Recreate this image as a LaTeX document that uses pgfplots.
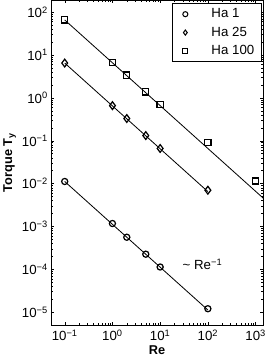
\documentclass[border=0pt]{standalone}
\usepackage{fontspec}
\setmainfont{Liberation Sans}
\usepackage{pgfplots}
\pgfplotsset{compat=1.18}
\newcommand{\ex}[1]{10\textsuperscript{#1}}
\begin{document}
\begin{tikzpicture}
\begin{axis}[
  scale only axis, width=207pt, height=318pt,
  xmode=log, ymode=log,
  xmin=0.0525, xmax=1413, ymin=5e-6, ymax=190,
  axis line style={black, line width=0.5pt},
  tick align=inside, major tick length=3pt, minor tick length=1.5pt,
  tick style={black, line width=0.4pt},
  xtick={0.1,1,10,100,1000},
  xticklabels={\ex{−1},\ex{0},\ex{1},\ex{2},\ex{3}},
  ytick={1e-5,1e-4,1e-3,1e-2,1e-1,1,10,100},
  yticklabels={\ex{−5},\ex{−4},\ex{−3},\ex{−2},\ex{−1},\ex{0},\ex{1},\ex{2}},
  ticklabel style={font=\fontsize{13}{15}\selectfont},
  xticklabel style={yshift=-1pt},
  xlabel={\bfseries Re}, ylabel={\bfseries Torque T\textsubscript{y}},
  label style={font=\fontsize{12.5}{14}\selectfont},
  xlabel style={yshift=2pt},
  ylabel style={yshift=-1pt},
  legend style={at={(0.995,0.99)}, anchor=north east, draw=black, line width=0.5pt,
    font=\fontsize{13}{15}\selectfont, row sep=3.5pt, inner xsep=5pt, inner ysep=3pt},
  legend cell align=left,
  legend image code/.code={\path (0pt,0pt) (30pt,0pt); \draw[#1, only marks, mark size=2.5pt, line width=1pt] plot coordinates {(7pt,0pt)};},
]
% fitted lines
\addplot[black, line width=0.8pt, forget plot] coordinates {(0.1,0.0112) (100,1.12e-5)};
\addplot[black, line width=0.8pt, forget plot] coordinates {(0.1,6.5) (100,0.0065)};
\addplot[black, line width=0.8pt, forget plot] coordinates {(0.1,66) (1500,0.0044)};
% data
\addplot[only marks, mark=o, mark size=3pt, black, line width=1.2pt] coordinates {
 (0.1,0.0112) (1,0.00117) (2,0.00056) (5,0.000225) (10,0.000113) (100,1.2e-5)};
\addlegendentry{Ha 1}
\addplot[only marks, mark=diamond, mark size=3.8pt, black, line width=1.2pt] coordinates {
 (0.1,6.5) (1,0.66) (2,0.33) (5,0.132) (10,0.066) (100,0.0070)};
\addlegendentry{Ha 25}
\addplot[only marks, mark=square, mark size=3pt, black, line width=1.2pt] coordinates {
 (0.1,66) (1,6.8) (2,3.4) (5,1.38) (10,0.69) (100,0.092) (1000,0.0115)};
\addlegendentry{Ha 100}
\node[font=\fontsize{13}{15}\selectfont] at (axis cs:77,1.3e-4) {\textasciitilde\ Re\textsuperscript{−1}};
\end{axis}
\end{tikzpicture}
\end{document}
